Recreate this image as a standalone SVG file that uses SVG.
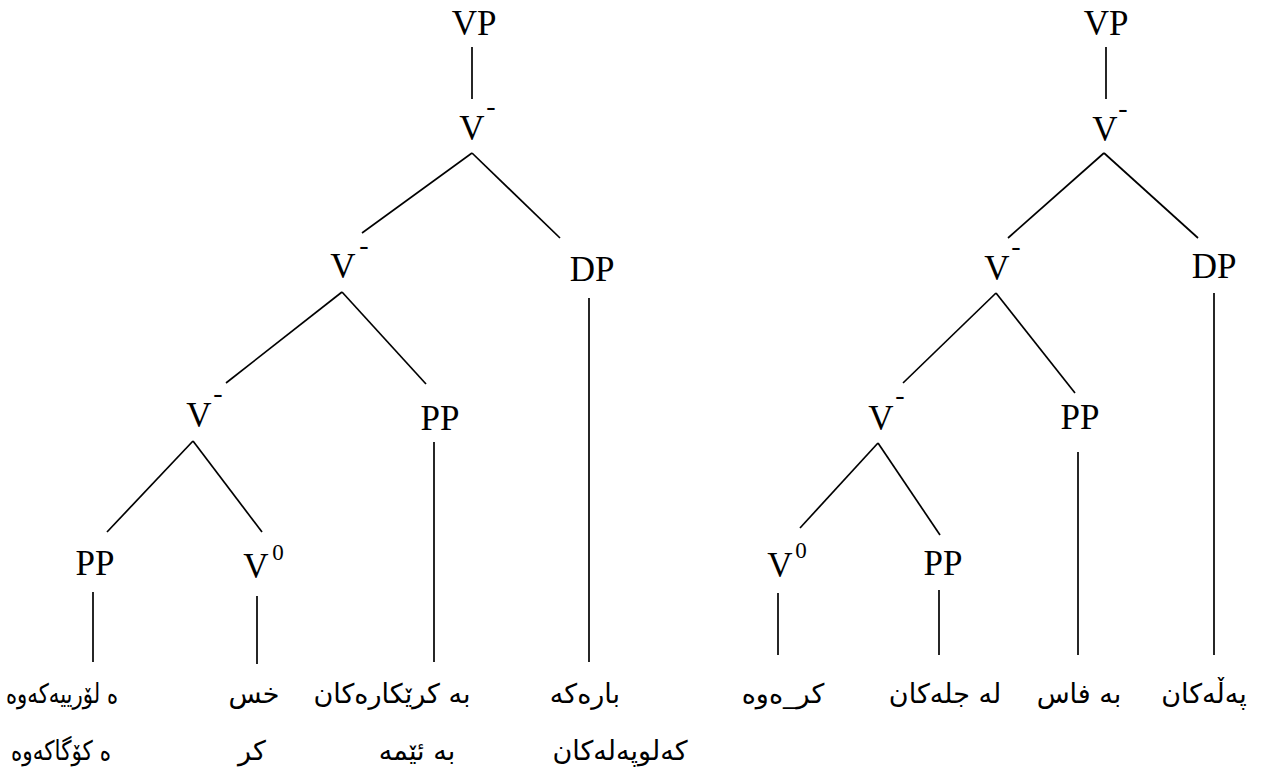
<svg xmlns="http://www.w3.org/2000/svg" width="1278" height="780" viewBox="0 0 1278 780">
<style>
.n{font-family:"Liberation Serif","Times New Roman",serif;font-size:35px;fill:#000;text-anchor:middle}
.s{font-family:"Liberation Serif","Times New Roman",serif;font-size:28px;fill:#000;text-anchor:middle}
.z{font-family:"Liberation Serif","Times New Roman",serif;font-size:23px;fill:#000;text-anchor:middle}
.w{font-family:"DejaVu Sans",sans-serif;font-size:27px;fill:#000;text-anchor:middle;direction:rtl}
.e line{stroke:#000;stroke-width:1.7;fill:none}
</style>
<rect width="1278" height="780" fill="#fff"/>
<g class="e" id="connectors">
<line x1="472" y1="47" x2="472" y2="99"/>
<line x1="472" y1="153" x2="362" y2="233"/>
<line x1="472" y1="153" x2="560" y2="238"/>
<line x1="342" y1="292" x2="226" y2="383"/>
<line x1="342" y1="292" x2="426" y2="384"/>
<line x1="193" y1="441" x2="107" y2="532"/>
<line x1="193" y1="441" x2="262" y2="532"/>
<line x1="93" y1="592" x2="93" y2="662"/>
<line x1="257" y1="596" x2="257" y2="664"/>
<line x1="434" y1="442" x2="434" y2="662"/>
<line x1="589" y1="298" x2="589" y2="662"/>
<line x1="1106" y1="47" x2="1106" y2="99"/>
<line x1="1104" y1="153" x2="1008" y2="238"/>
<line x1="1104" y1="153" x2="1198" y2="238"/>
<line x1="996" y1="293" x2="903" y2="383"/>
<line x1="996" y1="293" x2="1075" y2="393"/>
<line x1="1214" y1="293" x2="1214" y2="655"/>
<line x1="878" y1="443" x2="800" y2="528"/>
<line x1="878" y1="443" x2="940" y2="535"/>
<line x1="1078" y1="452" x2="1078" y2="655"/>
<line x1="778" y1="593" x2="778" y2="655"/>
<line x1="939" y1="590" x2="939" y2="655"/>
</g>
<g id="L-VP"><text class="n" x="474" y="35">VP</text></g>
<g id="L-V1"><text class="n" x="472" y="140">V</text><text class="s" x="491" y="115">-</text></g>
<g id="L-V2"><text class="n" x="343" y="278">V</text><text class="s" x="364" y="254">-</text></g>
<g id="L-DP"><text class="n" x="592" y="281">DP</text></g>
<g id="L-V3"><text class="n" x="199" y="427">V</text><text class="s" x="218" y="402">-</text></g>
<g id="L-PP1"><text class="n" x="440" y="430">PP</text></g>
<g id="L-PP2"><text class="n" x="95" y="575">PP</text></g>
<g id="L-V0"><text class="n" x="256" y="578">V</text><text class="z" x="278" y="560">0</text></g>
<g id="R-VP"><text class="n" x="1106" y="35">VP</text></g>
<g id="R-V1"><text class="n" x="1105" y="141">V</text><text class="s" x="1123" y="117">-</text></g>
<g id="R-V2"><text class="n" x="997" y="280">V</text><text class="s" x="1016" y="255">-</text></g>
<g id="R-DP"><text class="n" x="1214" y="278">DP</text></g>
<g id="R-V3"><text class="n" x="881" y="430">V</text><text class="s" x="900" y="404">-</text></g>
<g id="R-PP1"><text class="n" x="1080" y="429">PP</text></g>
<g id="R-V0"><text class="n" x="780" y="577">V</text><text class="z" x="801" y="558">0</text></g>
<g id="R-PP2"><text class="n" x="943" y="575">PP</text></g>
<g id="leaves">
<text class="w" x="62" y="703" textLength="112" lengthAdjust="spacingAndGlyphs">ه لۆرییەکەوە</text>
<text class="w" x="254" y="703">خس</text>
<text class="w" x="392" y="703">به کرێکارەکان</text>
<text class="w" x="585" y="703">بارەکە</text>
<text class="w" x="61" y="760" textLength="100" lengthAdjust="spacingAndGlyphs">ه کۆگاکەوە</text>
<text class="w" x="252" y="760">کر</text>
<text class="w" x="417" y="760">به ئێمه</text>
<text class="w" x="620" y="760">کەلوپەلەکان</text>
<text class="w" x="783" y="703">کر_ەوە</text>
<text class="w" x="945" y="703">له جلەکان</text>
<text class="w" x="1079" y="703">به فاس</text>
<text class="w" x="1204" y="703">پەڵەکان</text>
</g>
</svg>
